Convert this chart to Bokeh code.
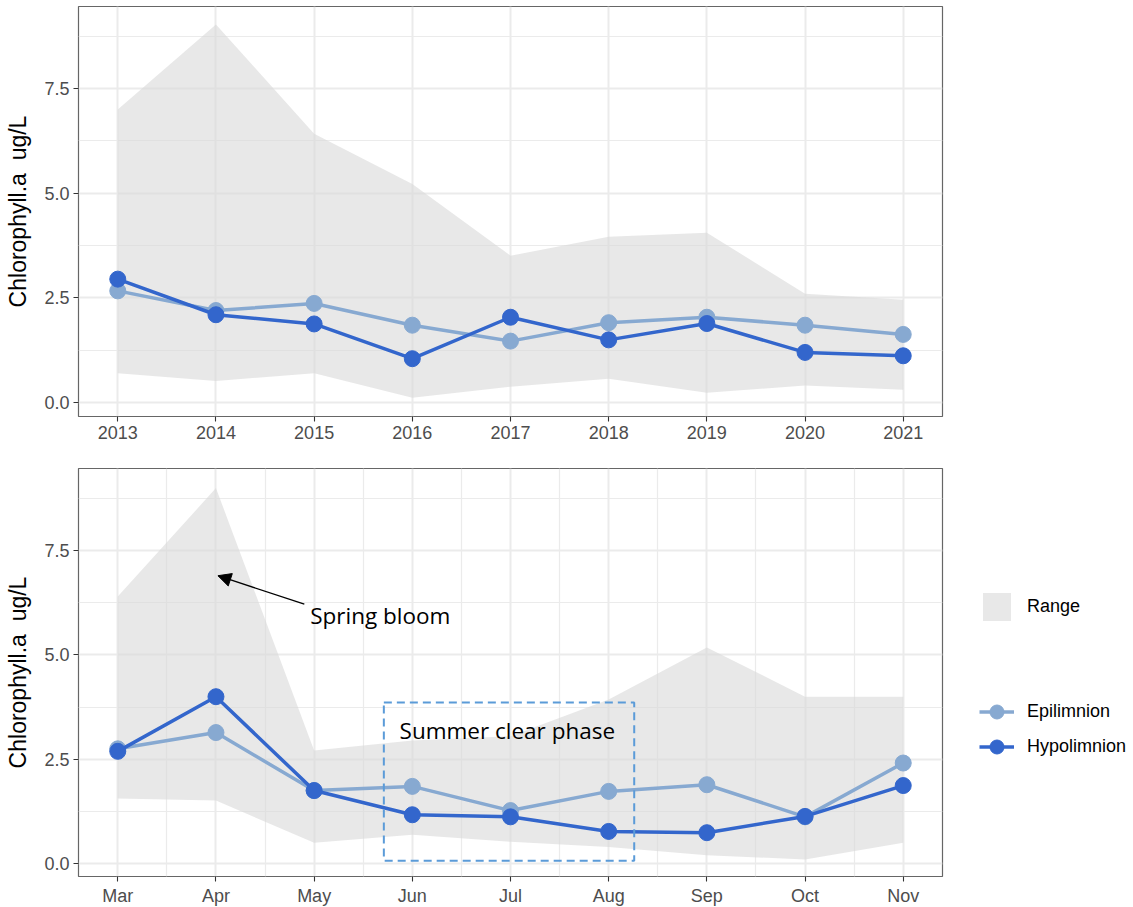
from bokeh.plotting import figure
from bokeh.layouts import column
from bokeh.models import (Range1d, FixedTicker, Legend, LegendItem, Arrow, NormalHead,
                          Label, BoxAnnotation)
from bokeh.embed import file_html
from bokeh.resources import INLINE

# ---------------- data ----------------
years = [2013, 2014, 2015, 2016, 2017, 2018, 2019, 2020, 2021]
year_epi = [2.67, 2.20, 2.37, 1.85, 1.47, 1.91, 2.04, 1.85, 1.63]
year_hypo = [2.95, 2.10, 1.88, 1.05, 2.04, 1.50, 1.89, 1.20, 1.12]
year_max = [7.00, 9.03, 6.42, 5.22, 3.51, 3.96, 4.06, 2.60, 2.46]
year_min = [0.70, 0.52, 0.70, 0.12, 0.38, 0.57, 0.24, 0.41, 0.31]

months = ["Mar", "Apr", "May", "Jun", "Jul", "Aug", "Sep", "Oct", "Nov"]
month_epi = [2.75, 3.14, 1.75, 1.85, 1.27, 1.73, 1.89, 1.12, 2.41]
month_hypo = [2.69, 4.00, 1.75, 1.17, 1.12, 0.77, 0.74, 1.13, 1.87]
month_max = [6.40, 9.00, 2.71, 2.95, 3.05, 3.93, 5.18, 4.00, 4.00]
month_min = [1.56, 1.51, 0.50, 0.69, 0.52, 0.40, 0.20, 0.10, 0.50]

y_ticks = [0.0, 2.5, 5.0, 7.5]
y_minor = [1.25, 3.75, 6.25, 8.75]
y_label = "Chlorophyll.a\u00a0\u00a0ug/L"

# annotations (data coordinates of the lower panel)
bloom_text = "Spring bloom"
bloom_text_pos = (1.96, 5.94)
bloom_arrow_from = (1.90, 6.22)
bloom_arrow_to = (1.02, 6.90)
clear_text = "Summer clear phase"
clear_text_pos = (2.87, 3.19)
clear_box = dict(left=2.71, right=5.26, bottom=0.07, top=3.86)

EPI = "#87a9d1"
HYPO = "#3366cc"
RANGE_FILL = "#d9d9d9"
GRID = "#ebebeb"
AX_FONT = "Liberation Sans"
ANN_FONT = "Open Sans"


def style(p, x_major, x_minor):
    p.outline_line_color = "#666666"
    p.outline_line_width = 1.2
    p.background_fill_color = "white"
    p.border_fill_color = "white"
    for ax in p.axis:
        ax.axis_line_color = None
        ax.major_tick_line_color = "#333333"
        ax.major_tick_line_width = 1.1
        ax.major_tick_out = 5
        ax.major_tick_in = 0
        ax.minor_tick_line_color = None
        ax.major_label_text_font = AX_FONT
        ax.major_label_text_font_size = "18px"
        ax.major_label_text_color = "#4d4d4d"
        ax.major_label_standoff = 4
    p.xaxis.ticker = FixedTicker(ticks=x_major, minor_ticks=x_minor)
    p.yaxis.ticker = FixedTicker(ticks=y_ticks, minor_ticks=y_minor)
    p.yaxis.major_label_overrides = {t: f"{t:.1f}" for t in y_ticks}
    p.yaxis.axis_label = y_label
    p.yaxis.axis_label_text_font = AX_FONT
    p.yaxis.axis_label_text_font_size = "23px"
    p.yaxis.axis_label_text_font_style = "normal"
    p.yaxis.axis_label_text_color = "black"
    p.yaxis.axis_label_standoff = 10
    p.xgrid.grid_line_color = GRID
    p.xgrid.grid_line_width = 2
    p.ygrid.grid_line_color = GRID
    p.ygrid.grid_line_width = 2
    p.ygrid.minor_grid_line_color = GRID
    p.ygrid.minor_grid_line_width = 1.2
    if x_minor:
        p.xgrid.minor_grid_line_color = GRID
        p.xgrid.minor_grid_line_width = 1.2


def draw(p, x, lo, hi, epi, hypo):
    rng = p.varea(x=x, y1=lo, y2=hi, fill_color=RANGE_FILL, fill_alpha=0.6)
    e_line = p.line(x, epi, line_color=EPI, line_width=3.5)
    e_pts = p.scatter(x, epi, size=16, fill_color=EPI, line_color=EPI)
    h_line = p.line(x, hypo, line_color=HYPO, line_width=3.5)
    h_pts = p.scatter(x, hypo, size=16, fill_color=HYPO, line_color=HYPO)
    return rng, (e_line, e_pts), (h_line, h_pts)


# ---------------- top panel (by year) ----------------
top = figure(frame_width=864, frame_height=410, output_backend="svg", toolbar_location=None,
             x_range=Range1d(years[0] - 0.4, years[-1] + 0.4), y_range=Range1d(-0.33, 9.46),
             min_border_left=78, min_border_right=10, min_border_top=6, min_border_bottom=40)
style(top, years, [])
draw(top, years, year_min, year_max, year_epi, year_hypo)

# ---------------- bottom panel (by month) ----------------
mx = list(range(len(months)))
bot = figure(frame_width=864, frame_height=408, output_backend="svg", toolbar_location=None,
             x_range=Range1d(-0.4, len(months) - 1 + 0.4), y_range=Range1d(-0.31, 9.47),
             min_border_left=78, min_border_right=0, min_border_top=12, min_border_bottom=26)
style(bot, mx, [i + 0.5 for i in mx[:-1]])
bot.xaxis.major_label_overrides = {i: m for i, m in zip(mx, months)}
rng, epi_r, hypo_r = draw(bot, mx, month_min, month_max, month_epi, month_hypo)

bot.add_layout(Arrow(end=NormalHead(size=13, fill_color="black", line_color="black"),
                     x_start=bloom_arrow_from[0], y_start=bloom_arrow_from[1],
                     x_end=bloom_arrow_to[0], y_end=bloom_arrow_to[1],
                     line_color="black", line_width=1.3))
bot.add_layout(Label(x=bloom_text_pos[0], y=bloom_text_pos[1], text=bloom_text,
                     text_font=ANN_FONT, text_font_size="22.5px", text_color="black",
                     text_baseline="middle", text_align="left"))
bot.add_layout(BoxAnnotation(**clear_box, fill_color=None, fill_alpha=0,
                             line_color="#5b9bd8", line_alpha=1.0, line_width=2,
                             line_dash="8 5"))
bot.add_layout(Label(x=clear_text_pos[0], y=clear_text_pos[1], text=clear_text,
                     text_font=ANN_FONT, text_font_size="22.5px", text_color="black",
                     text_baseline="middle", text_align="left"))

# invisible spacer renderer for the gap between the legend groups
spacer = bot.scatter(x=[], y=[], fill_alpha=0, line_alpha=0)

legend = Legend(items=[LegendItem(label="Range", renderers=[rng]),
                       LegendItem(label=" ", renderers=[spacer]),
                       LegendItem(label="  ", renderers=[spacer]),
                       LegendItem(label="Epilimnion", renderers=list(epi_r)),
                       LegendItem(label="Hypolimnion", renderers=list(hypo_r))],
                location=(37, 112), orientation="vertical",
                border_line_color=None, background_fill_alpha=0, padding=0, margin=0,
                label_text_font=AX_FONT, label_text_font_size="18px", label_text_color="black",
                label_standoff=13, glyph_width=35, glyph_height=35, label_height=35,
                label_width=139, spacing=0)
bot.add_layout(legend, "right")

layout = column(top, bot, spacing=0)
open("out.html", "w").write(file_html(layout, INLINE))
